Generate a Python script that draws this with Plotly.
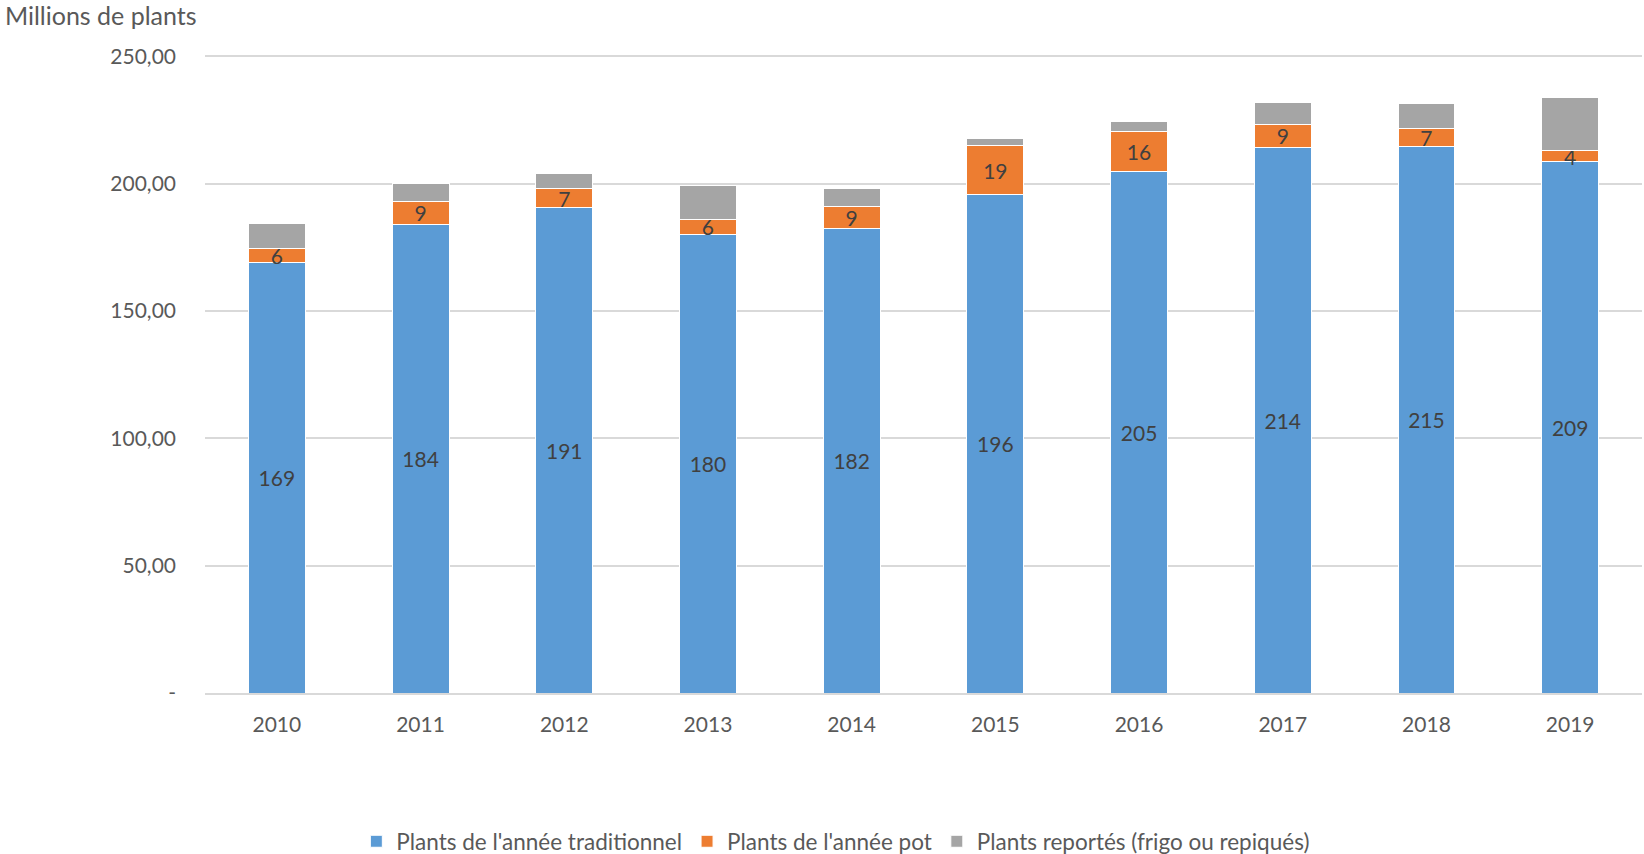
import plotly.graph_objects as go

years = ["2010", "2011", "2012", "2013", "2014", "2015", "2016", "2017", "2018", "2019"]
traditionnel = [168.9, 184.0, 190.6, 180.2, 182.2, 195.6, 204.6, 214.3, 214.6, 208.6]
pot = [5.7, 9.0, 7.4, 5.6, 9.0, 19.4, 16.0, 8.8, 7.0, 4.3]
reportes = [9.9, 6.9, 5.9, 13.5, 6.8, 2.6, 3.9, 8.8, 9.7, 20.8]

series_names = ["Plants de l'année traditionnel", "Plants de l'année pot", "Plants reportés (frigo ou repiqués)"]
colors = ["#5B9BD5", "#ED7D31", "#A5A5A5"]

y_tickvals = [0, 50, 100, 150, 200, 250]
y_ticktext = ["-", "50,00", "100,00", "150,00", "200,00", "250,00"]

FONT = "Lato"
TXT = "#595959"

fig = go.Figure()
fig.add_trace(go.Bar(
    x=years, y=traditionnel, name=series_names[0],
    marker=dict(color=colors[0], line=dict(color="#FFFFFF", width=1)),
    text=[f"{v:.0f}" for v in traditionnel], textposition="inside",
    insidetextanchor="middle", textangle=0,
    textfont=dict(family=FONT, size=21, color="#404040"),
    hoverinfo="skip",
))
fig.add_trace(go.Bar(
    x=years, y=pot, name=series_names[1],
    marker=dict(color=colors[1], line=dict(color="#FFFFFF", width=1)),
    text=[f"{v:.0f}" for v in pot], textposition="inside",
    insidetextanchor="middle", textangle=0,
    textfont=dict(family=FONT, size=21, color="#404040"),
    hoverinfo="skip",
))
fig.add_trace(go.Bar(
    x=years, y=reportes, name=series_names[2],
    marker=dict(color=colors[2], line=dict(color="#FFFFFF", width=1)),
    hoverinfo="skip",
))

fig.update_layout(
    width=1644, height=854,
    barmode="stack", bargap=0.604,
    plot_bgcolor="white", paper_bgcolor="white",
    margin=dict(l=205, r=2, t=55, b=161, autoexpand=False),
    font=dict(family=FONT, size=21, color=TXT),
    uniformtext=dict(minsize=21, mode="show"),
    title=dict(text="Millions de plants", x=0.003, xanchor="left", xref="container",
               y=1 - 16 / 854, yanchor="middle", yref="container",
               font=dict(family=FONT, size=25, color=TXT)),
    showlegend=True,
    legend=dict(orientation="h", x=0.439, xanchor="center", y=-0.233, yanchor="middle",
                font=dict(family=FONT, size=22.5, color=TXT), traceorder="normal"),
    xaxis=dict(showgrid=False, showline=True, linecolor="#D9D9D9", linewidth=2,
               ticks="", tickfont=dict(family=FONT, size=21, color=TXT),
               ticklabelstandoff=12, automargin=False),
    yaxis=dict(range=[0, 250.5], tickvals=y_tickvals, ticktext=y_ticktext,
               showgrid=True, gridcolor="#D9D9D9", gridwidth=1.5, zeroline=False,
               showline=False, ticks="", tickfont=dict(family=FONT, size=21, color=TXT),
               ticklabelstandoff=28, automargin=False),
)

fig.write_html("out.html", config={"displayModeBar": False},
               post_script="document.body.style.margin='0';document.body.style.overflow='hidden';")
